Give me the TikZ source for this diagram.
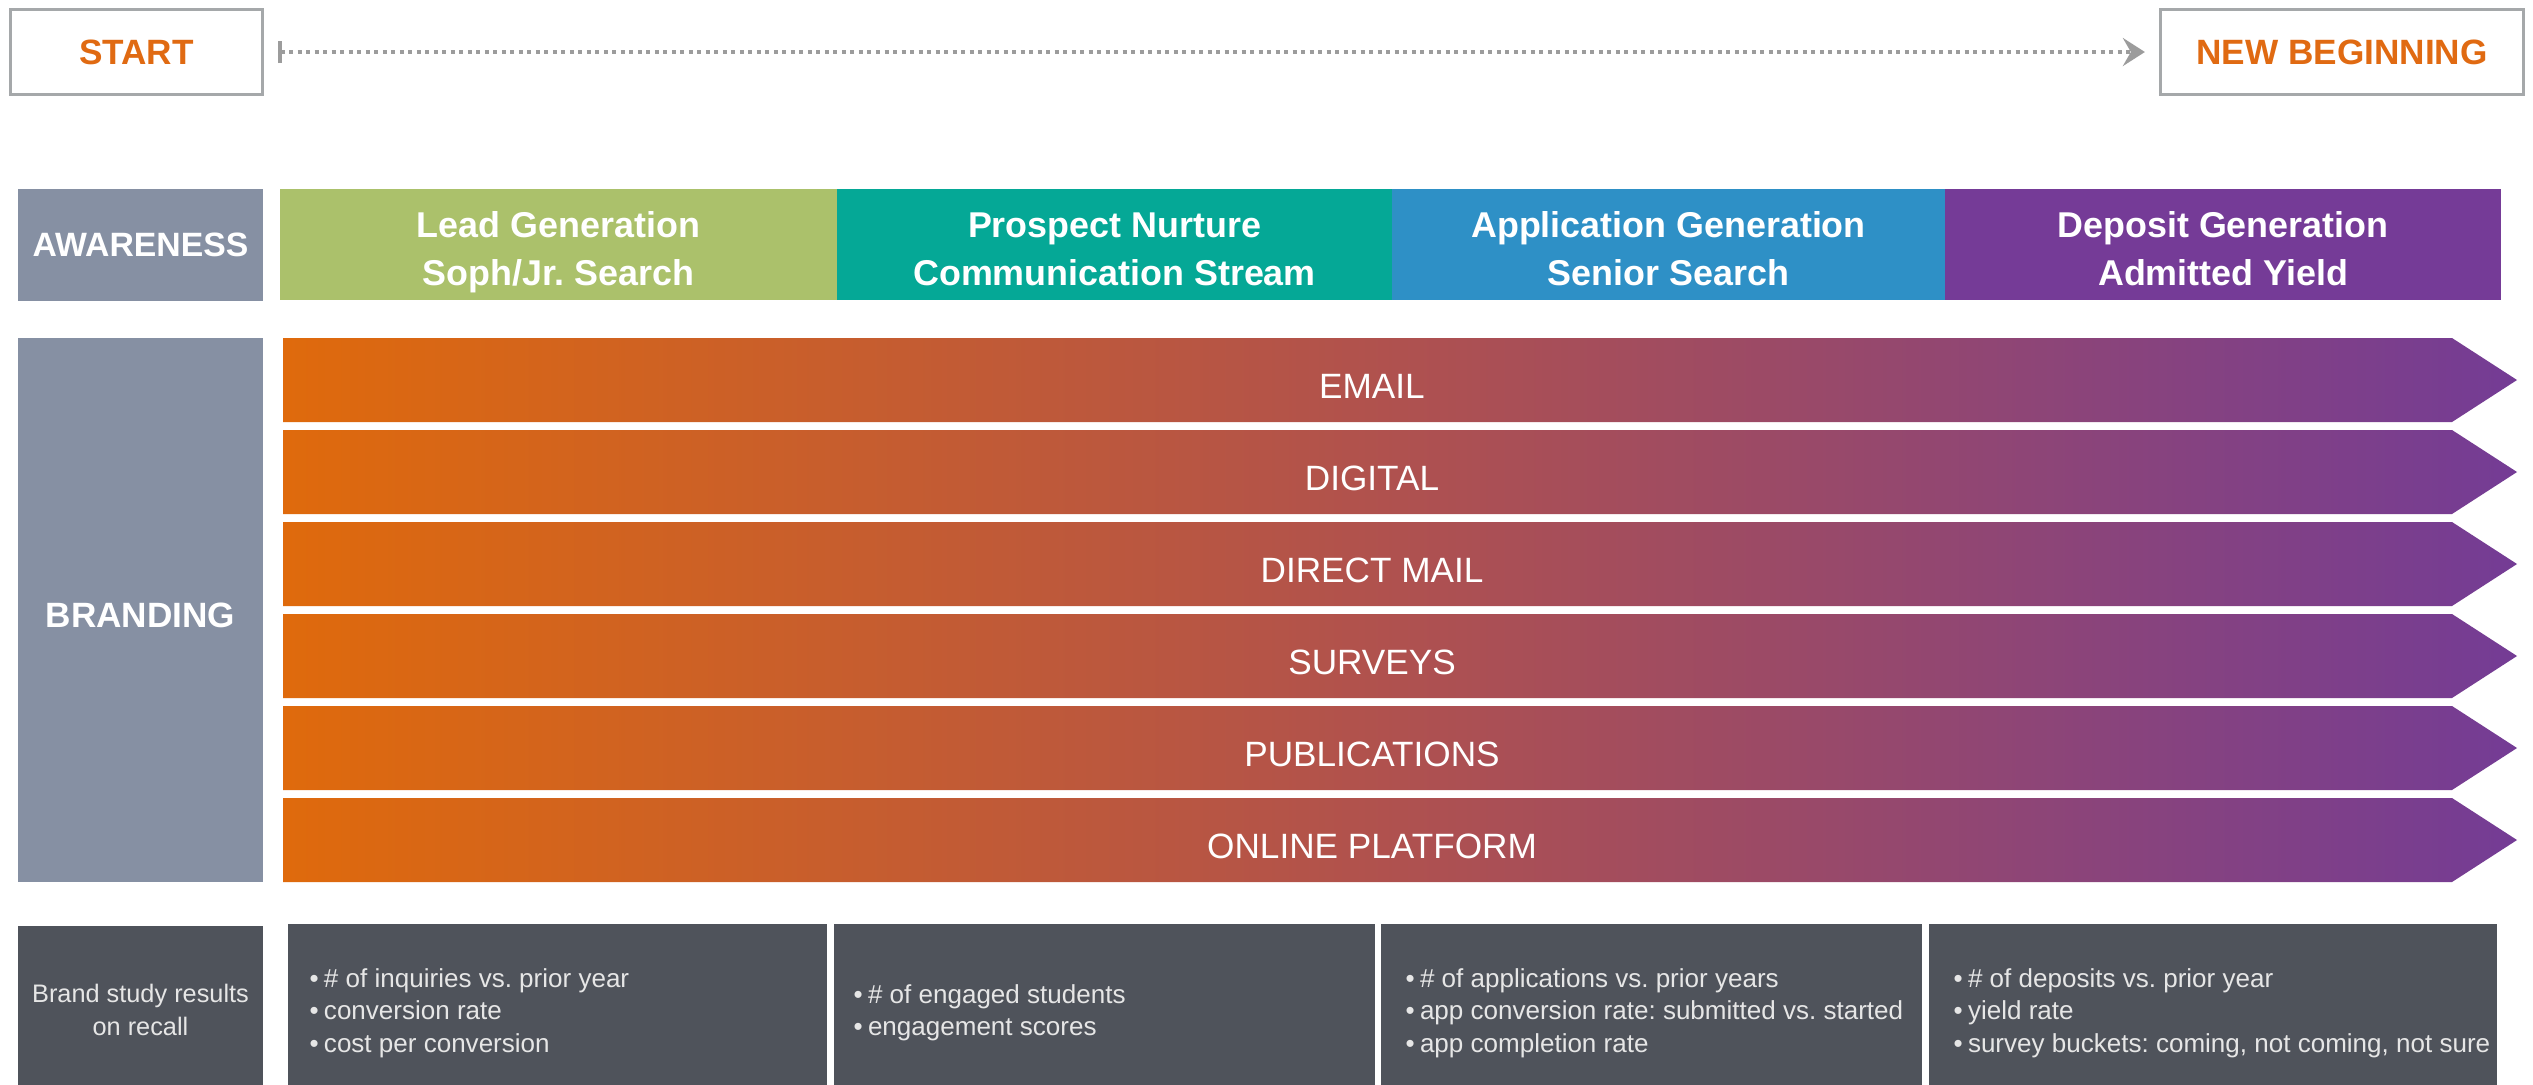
\documentclass[tikz,border=0pt]{standalone}
\usepackage{fontspec}
\setmainfont{Liberation Sans}
\usetikzlibrary{arrows.meta}
\definecolor{edgegray}{HTML}{A5A8AA}
\definecolor{orangeT}{HTML}{E06A12}
\definecolor{slate}{HTML}{8690A3}
\definecolor{leadgreen}{HTML}{ABC16B}
\definecolor{nurteal}{HTML}{05A896}
\definecolor{appblue}{HTML}{2E90C6}
\definecolor{deppurple}{HTML}{753B97}
\definecolor{darkbox}{HTML}{4F535B}
\definecolor{dotgray}{HTML}{9C9C9C}
\definecolor{arrL}{HTML}{DF6A0C}
\definecolor{arrM}{HTML}{AF514F}
\definecolor{arrR}{HTML}{743C95}
\definecolor{metrictext}{HTML}{E6E6E6}
\frenchspacing
\newcommand{\blt}{•\hspace{0.2em}}
\begin{document}
\begin{tikzpicture}[x=0.01cm,y=-0.01cm,
  endbox/.style={draw=edgegray, line width=0.85pt, fill=white, inner sep=0pt, outer sep=0pt,
    text=orangeT, font=\bfseries\fontsize{10}{12}\selectfont},
  sidebox/.style={fill=slate, text=white, inner sep=0pt, outer sep=0pt, minimum width=2.45cm,
    font=\bfseries\fontsize{9.6}{12}\selectfont},
  stagebox/.style={inner sep=0pt, outer sep=0pt, minimum height=1.11cm},
  stagetext/.style={text=white, inner sep=0pt, align=center,
    font=\bfseries\fontsize{10.2}{13.8}\selectfont},
  channel/.style={text=white, inner sep=0pt, font=\fontsize{10}{12}\selectfont},
  metricbox/.style={fill=darkbox, inner sep=0pt, outer sep=0pt, anchor=north west,
    minimum height=1.68cm},
  metrictxt/.style={text=metrictext, inner sep=0pt, anchor=west, align=left,
    font=\fontsize{7.4}{9.2}\selectfont},
  flowline/.style={draw=dotgray, line width=0.035cm, dash pattern=on 0.04cm off 0.045cm,
    {Bar[width=0.22cm,line width=0.035cm]}-{Stealth[length=0.22cm,width=0.28cm,inset=0.08cm]}}
]
\useasboundingbox (0,0) rectangle (2533,1084);
\fill[white] (0,0) rectangle (2533,1084);

% top row
\node[endbox, minimum width=2.51cm, minimum height=0.84cm] (start) at (136.5,52) {START};
\node[endbox, minimum width=3.62cm, minimum height=0.84cm] (newb) at (2342,52) {NEW BEGINNING};
\draw[flowline, shorten <=0.16cm, shorten >=0.16cm] (start) -- (newb);

% awareness row
\node[sidebox, minimum height=1.11cm] (aware) at (140.5,245) {AWARENESS};
\node[stagebox, fill=leadgreen, minimum width=5.57cm] (lead) at (558.5,244.5) {};
\node[stagebox, fill=nurteal, minimum width=5.55cm] (nurture) at (1114.5,244.5) {};
\node[stagebox, fill=appblue, minimum width=5.53cm] (appgen) at (1668.5,244.5) {};
\node[stagebox, fill=deppurple, minimum width=5.56cm] (depgen) at (2223,244.5) {};
\node[stagetext] (leadt) at (558.5,252) {\strut Lead Generation\\\strut Soph/Jr. Search};
\node[stagetext] (nurturet) at (1114.5,252) {\strut Prospect Nurture\\\strut Communication Stream};
\node[stagetext] (appgent) at (1668.5,252) {\strut Application Generation\\\strut Senior Search};
\node[stagetext] (depgent) at (2223,252) {\strut Deposit Generation\\\strut Admitted Yield};

% branding
\node[sidebox, minimum height=5.44cm] (brand) at (140.5,610) {};
\node[text=white, inner sep=0pt, font=\bfseries\fontsize{10}{12}\selectfont] (brandt) at (140.5,615) {BRANDING};

\foreach \i/\nm/\txt in {0/email/EMAIL, 1/digital/DIGITAL, 2/dmail/DIRECT MAIL, 3/surveys/SURVEYS, 4/pubs/PUBLICATIONS, 5/online/ONLINE PLATFORM} {
  \pgfmathsetmacro{\t}{338+92*\i}
  \shade[left color=arrL, right color=arrR, middle color=arrM]
    (283,\t) -- (2452,\t) -- (2517,\t+42) -- (2452,\t+84) -- (283,\t+84) -- cycle;
  \node[channel] (\nm) at (1372,\t+48) {\txt};
}

% metrics row
\node[metricbox, minimum width=2.45cm] (study) at (18,926) {};
\node[metricbox, minimum width=5.39cm] (m1) at (288,924) {};
\node[metricbox, minimum width=5.41cm] (m2) at (834,924) {};
\node[metricbox, minimum width=5.41cm] (m3) at (1381,924) {};
\node[metricbox, minimum width=5.68cm] (m4) at (1929,924) {};
\node[metrictxt, anchor=center, align=center, font=\fontsize{7.2}{9.2}\selectfont] (studyt) at (140.5,1010) {Brand study results\\on recall};
\node[metrictxt] (m1t) at (309,1013) {\blt\# of inquiries vs. prior year\\\blt conversion rate\\\blt cost per conversion};
\node[metrictxt] (m2t) at (853,1013) {\blt\# of engaged students\\\blt engagement scores};
\node[metrictxt] (m3t) at (1405,1013) {\blt\# of applications vs. prior years\\\blt app conversion rate: submitted vs. started\\\blt app completion rate};
\node[metrictxt] (m4t) at (1953,1013) {\blt\# of deposits vs. prior year\\\blt yield rate\\\blt survey buckets: coming, not coming, not sure};
\end{tikzpicture}
\end{document}
